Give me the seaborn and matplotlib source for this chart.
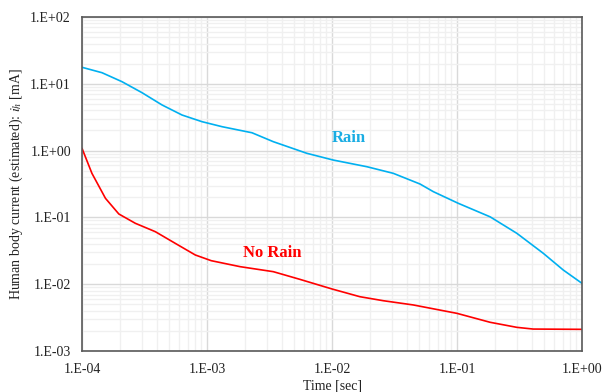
import matplotlib
matplotlib.use("Agg")
import matplotlib.pyplot as plt
import matplotlib.ticker as mticker
import seaborn as sns
import pandas as pd
import numpy as np

# Data
rain_time = [1.0e-4, 1.445e-4, 2.09e-4, 3.02e-4, 4.37e-4, 6.31e-4, 9.12e-4, 1.32e-3,
             2.29e-3, 3.39e-3, 6.28e-3, 1.02e-2, 1.90e-2, 3.09e-2, 5.06e-2, 6.46e-2,
             0.102, 0.184, 0.301, 0.490, 0.708, 1.0]
rain_current = [17.66, 14.66, 10.75, 7.36, 4.82, 3.41, 2.71, 2.28,
                1.85, 1.36, 0.912, 0.723, 0.574, 0.457, 0.316, 0.243,
                0.163, 0.102, 0.0578, 0.0290, 0.0163, 0.0103]

norain_time = [1.0e-4, 1.20e-4, 1.54e-4, 1.97e-4, 2.67e-4, 3.86e-4, 5.57e-4, 8.05e-4,
               1.08e-3, 1.84e-3, 3.39e-3, 5.55e-3, 1.00e-2, 1.67e-2, 2.57e-2,
               4.47e-2, 0.100, 0.184, 0.301, 0.407, 1.0]
norain_current = [1.08, 0.457, 0.193, 0.1125, 0.0816, 0.0611, 0.0409, 0.0274,
                  0.0225, 0.0183, 0.0154, 0.0118, 0.00848, 0.00650, 0.00566,
                  0.00489, 0.00366, 0.00269, 0.00226, 0.00213, 0.00211]

series_names = ["Rain", "No Rain"]
colors = {"Rain": "#00B0F0", "No Rain": "#FF0000"}
xtick_labels = ["1.E-04", "1.E-03", "1.E-02", "1.E-01", "1.E+00"]
ytick_labels = ["1.E-03", "1.E-02", "1.E-01", "1.E+00", "1.E+01", "1.E+02"]

df = pd.concat([
    pd.DataFrame({"time": rain_time, "current": rain_current, "cond": "Rain"}),
    pd.DataFrame({"time": norain_time, "current": norain_current, "cond": "No Rain"}),
])

sns.set_style("white")
plt.rcParams["font.family"] = ["Liberation Serif", "DejaVu Serif"]
plt.rcParams["mathtext.fontset"] = "stix"

fig = plt.figure(figsize=(6.04, 3.92), dpi=100)
ax = fig.add_axes([0.1358, 0.1046, 0.8278, 0.852])

sns.lineplot(data=df, x="time", y="current", hue="cond", hue_order=series_names,
             palette=colors, linewidth=1.2, ax=ax, legend=False, sort=False,
             estimator=None)

ax.set_xscale("log")
ax.set_yscale("log")
ax.set_xlim(1e-4, 1.0)
ax.set_ylim(1e-3, 1e2)

xt = [1e-4, 1e-3, 1e-2, 1e-1, 1.0]
yt = [1e-3, 1e-2, 1e-1, 1.0, 1e1, 1e2]
ax.set_xticks(xt)
ax.set_xticklabels(xtick_labels)
ax.set_yticks(yt)
ax.set_yticklabels(ytick_labels)
ax.xaxis.set_minor_locator(mticker.LogLocator(base=10, subs=np.arange(2, 10)))
ax.yaxis.set_minor_locator(mticker.LogLocator(base=10, subs=np.arange(2, 10)))
ax.xaxis.set_minor_formatter(mticker.NullFormatter())
ax.yaxis.set_minor_formatter(mticker.NullFormatter())

ax.grid(which="major", color="#D9D9D9", linewidth=1.0)
ax.grid(which="minor", color="#F0F0F0", linewidth=1.0)
ax.set_axisbelow(True)

ax.tick_params(which="both", length=0, labelsize=10, colors="#222222")
ax.tick_params(axis="x", pad=9)
ax.tick_params(axis="y", pad=8)

for s in ax.spines.values():
    s.set_visible(True)
    s.set_color("#595959")
    s.set_linewidth(1.2)

ax.set_xlabel("Time [sec]", fontsize=10, labelpad=2, color="#222222")
ax.set_ylabel(r"Human body current (estimated): $i_h$ [mA]", fontsize=10,
              labelpad=4, color="#222222")

ax.text(1.37e-2, 1.55, "Rain", color="#1AADE3", fontsize=12, fontweight="bold",
        ha="center", va="center")
ax.text(3.31e-3, 0.0293, "No Rain", color="#FF0000", fontsize=12, fontweight="bold",
        ha="center", va="center")

fig.savefig("out.png", dpi=100)
